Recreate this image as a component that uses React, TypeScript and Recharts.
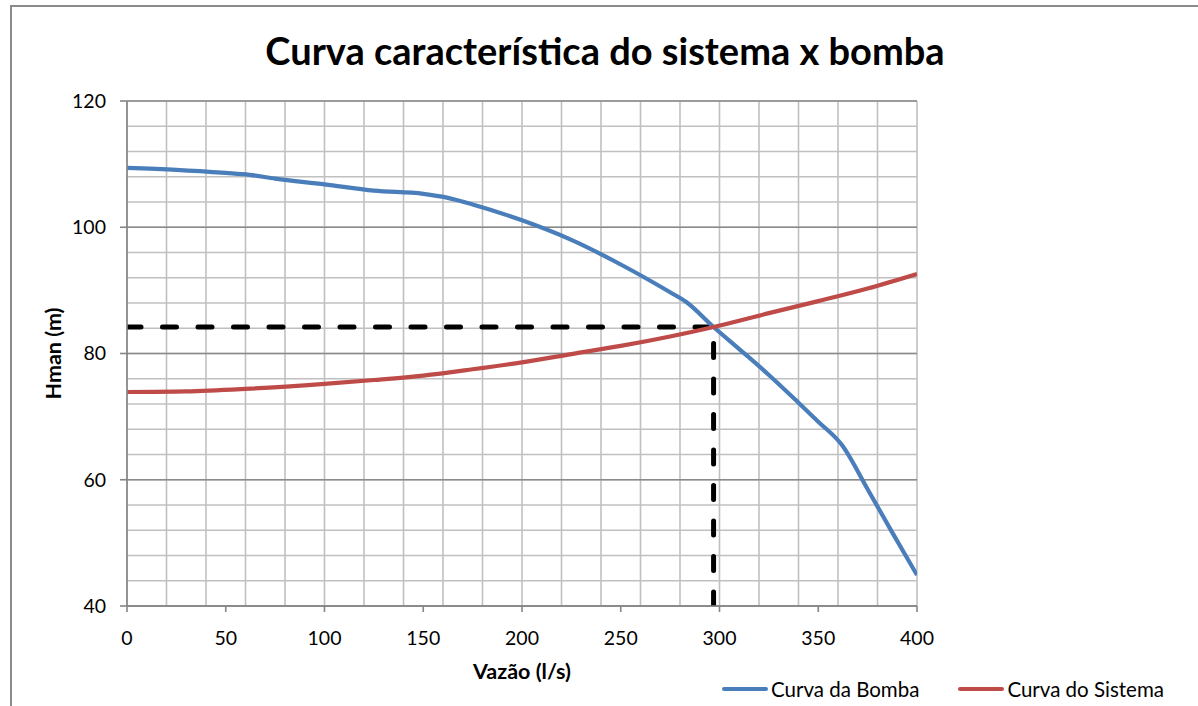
import React from 'react';
import { LineChart, Line, XAxis, YAxis, CartesianGrid, Legend } from 'recharts';

// ---- Data ----
const flowBomba = [0, 25, 50, 62, 75, 100, 125, 150, 162, 175, 200, 225, 250, 275, 283, 297, 310, 325, 340, 350, 362, 375, 387, 400];
const headBomba = [109.4, 109.1, 108.6, 108.3, 107.7, 106.8, 105.8, 105.3, 104.7, 103.6, 101.1, 98.0, 94.1, 89.7, 88.2, 84.2, 80.7, 76.6, 72.2, 69.2, 65.5, 58.5, 51.9, 44.9];

const flowSistema = [0, 30, 60, 100, 125, 150, 175, 200, 225, 250, 275, 297, 325, 350, 375, 400];
const headSistema = [73.9, 74.0, 74.4, 75.2, 75.8, 76.5, 77.5, 78.6, 79.9, 81.2, 82.7, 84.2, 86.4, 88.3, 90.3, 92.6];

const opFlow = 297;
const opHead = 84.2;

const xTicks = [0, 50, 100, 150, 200, 250, 300, 350, 400];
const yTicks = [40, 60, 80, 100, 120];
const xMinor = [0, 10, 20, 30, 40, 50, 60, 70, 80, 90, 100, 110, 120, 130, 140, 150, 160, 170, 180, 190, 200, 210, 220, 230, 240, 250, 260, 270, 280, 290, 300, 310, 320, 330, 340, 350, 360, 370, 380, 390, 400];
const yMinor = [40, 44, 48, 52, 56, 60, 64, 68, 72, 76, 80, 84, 88, 92, 96, 100, 104, 108, 112, 116, 120];

const title = 'Curva característica do sistema x bomba';
const xLabel = 'Vazão (l/s)';
const yLabel = 'Hman (m)';
const seriesNames = ['Curva da Bomba', 'Curva do Sistema'];

// ---- Derived tables ----
const bombaData = flowBomba.map((x, i) => ({ x, y: headBomba[i] }));
const sistemaData = flowSistema.map((x, i) => ({ x, y: headSistema[i] }));
const dashH = [{ x: 0, y: opHead }, { x: opFlow, y: opHead }];
const dashV = [{ x: opFlow, y: 40 }, { x: opFlow, y: opHead }];

const BLUE = '#4A7EBB';
const RED = '#BE4B48';
const FONT = 'Lato, "Noto Sans", sans-serif';

const YAxisLabel = (props: any) => {
  const vb = props.viewBox || { x: 0, y: 0, width: 0, height: 0 };
  const cx = 53;
  const cy = vb.y + vb.height / 2;
  return (
    <text x={cx} y={cy} transform={`rotate(-90, ${cx}, ${cy})`} textAnchor="middle" dominantBaseline="central"
      style={{ fontFamily: FONT, fontWeight: 700, fontSize: 21.5, fill: '#000' }}>
      {yLabel}
    </text>
  );
};

const XAxisLabel = (props: any) => {
  const vb = props.viewBox || { x: 0, y: 0, width: 0, height: 0 };
  const cx = vb.x + vb.width / 2;
  return (
    <text x={cx} y={671} textAnchor="middle" dominantBaseline="central"
      style={{ fontFamily: FONT, fontWeight: 700, fontSize: 21.5, fill: '#000' }}>
      {xLabel}
    </text>
  );
};

const renderLegend = (props: any) => {
  const payload = (props.payload || []).filter((p: any) => p.type !== 'none');
  return (
    <div style={{ display: 'flex', flexDirection: 'row', fontFamily: FONT, fontSize: 20.5, color: '#000', alignItems: 'center', height: 24, lineHeight: '24px' }}>
      {payload.map((p: any, i: number) => (
        <div key={i} style={{ display: 'flex', alignItems: 'center', marginRight: i === 0 ? 39 : 0 }}>
          <div style={{ width: 46, height: 4, background: p.color, borderRadius: 2, marginRight: 3 }} />
          <span>{p.value}</span>
        </div>
      ))}
    </div>
  );
};

export default function App() {
  return (
    <div style={{ position: 'absolute', left: 0, top: 0, width: 1198, height: 706, background: '#fff', overflow: 'hidden' }}>
      <div style={{ position: 'absolute', left: 10, top: 5, width: 1200, height: 720, borderTop: '2px solid #8a8a8a', borderLeft: '2px solid #8a8a8a' }} />
      <div style={{ position: 'absolute', left: 0, width: 1210, top: 26, textAlign: 'center', fontFamily: FONT, fontWeight: 700, fontSize: 38, color: '#000', lineHeight: '48px' }}>
        {title}
      </div>
      <div style={{ position: 'absolute', left: 0, top: 0 }}>
        <LineChart width={1198} height={706} margin={{ top: 101, right: 281, bottom: 0, left: 0 }}>
          <XAxis xAxisId="minor" dataKey="x" type="number" domain={[0, 400]} ticks={xMinor} allowDataOverflow hide />
          <YAxis yAxisId="minor" type="number" domain={[40, 120]} ticks={yMinor} allowDataOverflow hide />
          <CartesianGrid xAxisId="minor" yAxisId="minor" stroke="#c0c0c0" strokeWidth={1.6} />
          <CartesianGrid stroke="#8a8a8a" strokeWidth={1.6} vertical={false} />
          <XAxis
            dataKey="x"
            type="number"
            domain={[0, 400]}
            ticks={xTicks}
            allowDataOverflow
            stroke="#868686"
            strokeWidth={1.6}
            tickSize={6}
            tick={{ fill: '#000', fontSize: 19.5, fontFamily: FONT, dy: 17 }}
            height={100}
            label={<XAxisLabel />}
          />
          <YAxis
            type="number"
            domain={[40, 120]}
            ticks={yTicks}
            allowDataOverflow
            stroke="#868686"
            strokeWidth={1.6}
            tickSize={7}
            tick={{ fill: '#000', fontSize: 19.5, fontFamily: FONT, dx: -12 }}
            width={127}
            label={<YAxisLabel />}
          />
          <Line data={dashH} dataKey="y" type="linear" stroke="#000" strokeWidth={5} strokeDasharray="14 21.5" strokeLinecap="round" dot={false} isAnimationActive={false} legendType="none" />
          <Line data={dashV} dataKey="y" type="linear" stroke="#000" strokeWidth={5} strokeDasharray="14 21.5" strokeLinecap="round" dot={false} isAnimationActive={false} legendType="none" />
          <Line data={bombaData} dataKey="y" name={seriesNames[0]} type="monotone" stroke={BLUE} strokeWidth={4.2} dot={false} isAnimationActive={false} />
          <Line data={sistemaData} dataKey="y" name={seriesNames[1]} type="monotone" stroke={RED} strokeWidth={4.2} dot={false} isAnimationActive={false} />
          <Legend content={renderLegend} wrapperStyle={{ position: 'absolute', left: 722, top: 677, width: 476, height: 0, bottom: 'auto', overflow: 'visible' }} />
        </LineChart>
      </div>
    </div>
  );
}
